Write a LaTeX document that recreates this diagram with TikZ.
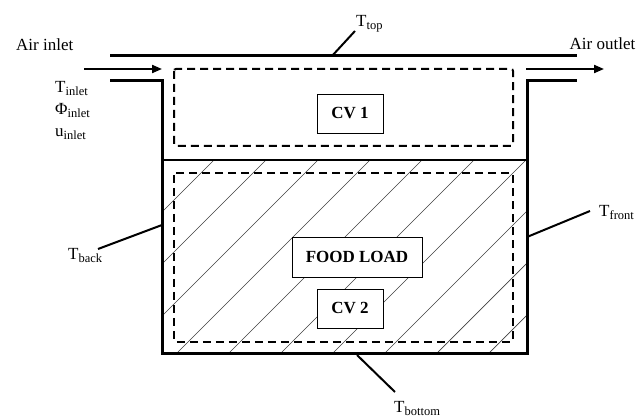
\documentclass[tikz,border=0pt]{standalone}
\usepackage{fontspec}
\setmainfont{Liberation Serif}
\usetikzlibrary{arrows.meta}
\newcommand{\mysub}[1]{\raisebox{-3pt}{\fontsize{12.5}{14}\selectfont #1}}
\begin{document}
\begin{tikzpicture}[x=1pt,y=-1pt,
  wall/.style={line width=3pt,line join=miter},
  cvline/.style={line width=2pt,dash pattern=on 8pt off 5pt,rounded corners=2pt},
  hatch/.style={line width=0.7pt,black!75},
  lead/.style={line width=2pt},
  flow/.style={line width=2pt,-{Triangle[length=10pt,width=8pt]}},
  lbl/.style={inner sep=0pt,anchor=base west,font=\fontsize{17}{20}\selectfont},
  cvbox/.style={draw,line width=0.8pt,fill=white,inner sep=0pt,font=\fontsize{17}{20}\selectfont\bfseries}]
\useasboundingbox (0,0) rectangle (637,419);
% hatching of food load
\begin{scope}
  \clip (162,160) rectangle (527,354);
  \foreach \k in {-1,...,11} {
    \draw[hatch] ({214+52*\k},160) -- ({214+52*\k-260},420);
  }
\end{scope}
% walls
\coordinate (tl) at (110,56);
\coordinate (tr) at (577,56);
\coordinate (il) at (110,81);
\coordinate (ic) at (162,81);
\coordinate (bl) at (162,354);
\coordinate (br) at (527,354);
\coordinate (oc) at (527,81);
\coordinate (or) at (577,81);
\draw[wall] (tl) -- (tr);
\draw[wall] (il) -- (ic) -- (bl) -- (br) -- (oc) -- (or);
\coordinate (dl) at (162,160);
\coordinate (dr) at (527,160);
\draw[line width=2pt] (dl) -- (dr);
% control volumes
\draw[cvline] (174,69) rectangle (513,146);
\draw[cvline] (174,173) rectangle (513,342);
% boxes
\node[cvbox,minimum width=66pt,minimum height=39pt] (cv1) at (350,113.5) {CV 1};
\node[cvbox,minimum width=130pt,minimum height=40pt] (food) at (357,257) {FOOD LOAD};
\node[cvbox,minimum width=66pt,minimum height=39pt] (cv2) at (350,308.5) {CV 2};
% flow arrows
\coordinate (ain) at (84,69);
\coordinate (aine) at (162,69);
\coordinate (aout) at (526,69);
\coordinate (aoute) at (604,69);
\draw[flow] (ain) -- (aine);
\draw[flow] (aout) -- (aoute);
% labels
\node[lbl] (airin) at (16,51) {Air inlet};
\node[lbl] (airout) at (569.5,50) {Air outlet};
\node[lbl] (tin) at (55,93) {T\mysub{inlet}};
\node[lbl] (phin) at (55,115) {Φ\mysub{inlet}};
\node[lbl] (uin) at (55,137) {u\mysub{inlet}};
\node[lbl] (ttop) at (356,27) {T\mysub{top}};
\node[lbl] (tback) at (68,260) {T\mysub{back}};
\node[lbl] (tfront) at (599,217) {T\mysub{front}};
\node[lbl] (tbot) at (394,412) {T\mysub{bottom}};
% leader lines
\coordinate (wtop) at (332,56);
\coordinate (ltop) at (355,31);
\coordinate (wback) at (162,225);
\coordinate (lback) at (98,249);
\coordinate (wfront) at (527,237);
\coordinate (lfront) at (590,211);
\coordinate (wbot) at (357,355);
\coordinate (lbot) at (395,392);
\draw[lead] (wtop) -- (ltop);
\draw[lead] (wback) -- (lback);
\draw[lead] (wfront) -- (lfront);
\draw[lead] (wbot) -- (lbot);
\end{tikzpicture}
\end{document}
